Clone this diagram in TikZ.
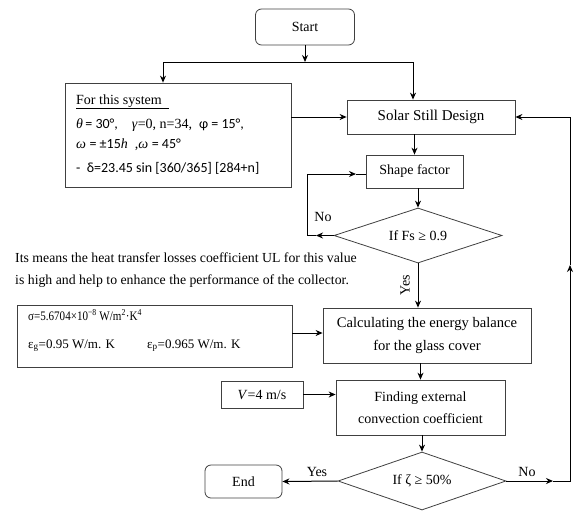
\documentclass[tikz,border=0pt]{standalone}
\usepackage{fontspec}
\setmainfont{Liberation Serif}
\newfontfamily\calfont{Carlito}
\usetikzlibrary{arrows.meta,shapes.geometric}
\begin{document}
\begin{tikzpicture}[x=1pt,y=-1pt,
  box/.style={draw=black!75, line width=0.8pt, inner sep=0pt, font=\fontsize{14}{23}\selectfont, align=center},
  rbox/.style={box, rounded corners=6pt},
  dec/.style={draw=black!75, line width=0.8pt, diamond, aspect=3, inner sep=0pt, font=\fontsize{14}{17}\selectfont},
  arr/.style={line width=1pt, -{Stealth[length=7pt,width=6pt]}},
  ln/.style={line width=1pt},
  lab/.style={font=\fontsize{14}{17}\selectfont, inner sep=0pt},
  txt/.style={font=\fontsize{14}{17}\selectfont, inner sep=0pt, anchor=base west},
  par/.style={font=\fontsize{13.8}{16}\selectfont, inner sep=0pt, anchor=base west}
]
\useasboundingbox (0,0) rectangle (580,520);

% nodes
\node[rbox, minimum width=99pt, minimum height=36pt] (start) at (305,27) {Start};
\node[box, minimum width=226pt, minimum height=104pt] (sys) at (178,135) {};
\node[box, minimum width=168pt, minimum height=34pt, font=\fontsize{15}{18}\selectfont] (ssd) at (431,117) {Solar Still Design};
\node[box, minimum width=97pt, minimum height=33pt] (sf) at (414.5,171.5) {Shape factor};
\node[dec, minimum width=168pt, minimum height=55pt] (d1) at (418,235.5) {If Fs ≥ 0.9};
\node[box, minimum width=208pt, minimum height=55pt, font=\fontsize{14.6}{23}\selectfont] (eb) at (427,335.5) {Calculating the energy balance\\for the glass cover};
\node[box, minimum width=275pt, minimum height=62pt] (sig) at (154.5,336) {};
\node[box, minimum width=169pt, minimum height=55pt, font=\fontsize{14}{22}\selectfont] (fe) at (420.5,407.5) {Finding external\\convection coefficient};
\node[box, minimum width=82pt, minimum height=27pt] (v) at (262,394.5) {\textit{V}=4 m/s};
\node[dec, minimum width=168pt, minimum height=58pt] (d2) at (422,481) {If ζ ≥ 50\%};
\node[rbox, minimum width=77pt, minimum height=33pt] (end) at (243.5,481.5) {End};

% system box text
\node[txt] (s1) at (76,104) {\underline{For this system\ \ }};
\node[txt] (s2) at (76,128) {\textit{θ}\,{\calfont = 30°,}\hspace{14pt}\textit{γ}=0, n=34,\ \ {\calfont φ = 15°,}};
\node[txt] (s3) at (76,148) {\textit{ω}\ {\calfont =\ ±15}\textit{h}\ \ ,\textit{ω}\ {\calfont =\ 45°}};
\node[txt] (s4) at (76,172) {\calfont -\ \ δ=23.45 sin [360/365] [284+n]};

% sigma box text
\node[txt, font=\fontsize{13}{15}\selectfont] (g1) at (28,320) {\scalebox{0.85}[1]{σ=5.6704×10\textsuperscript{−8} W/m\textsuperscript{2}·K\textsuperscript{4}}};
\node[txt, font=\fontsize{13}{15}\selectfont] (g2) at (28,348) {ε\textsubscript{g}=0.95 W/m. K};
\node[txt, font=\fontsize{13}{15}\selectfont] (g3) at (147,348) {ε\textsubscript{p}=0.965 W/m. K};

% paragraph
\node[par] (p1) at (15,262) {Its means the heat transfer losses coefficient UL for this value};
\node[par] (p2) at (15,284) {is high and help to enhance the performance of the collector.};

% connectors
\coordinate (j) at (305,62);
\draw[arr] (start.south) -- (j);
\draw[arr] (j) -| ([xshift=-15pt]sys.north);
\draw[arr] (j) -| ([xshift=-18pt]ssd.north);
\draw[arr] (sys.east |- ssd.west) -- (ssd.west);
\draw[arr] (ssd.south -| sf.north) -- (sf.north);
\draw[arr] (sf.south -| d1.north) -- (d1.north);

% No loop of d1
\coordinate (nl) at (307,235.5);
\coordinate (nt) at (307,174);
\coordinate (na) at (316,235.5);
\coordinate (nb) at (356,174);
\draw[arr] (d1.west) -- (na);
\draw[ln] (na) -- (nl) -- (nt);
\draw[arr] (nt) -- (nb);
\draw[ln] (nb) -- (nb -| sf.west);
\node[lab] (no1) at (323,217) {No};

% Yes d1
\draw[arr] (d1.south) -- (d1.south |- eb.north);
\node[lab, rotate=90] (yes1) at (405,285) {Yes};

\draw[arr] (sig.east |- 0,333) -- (eb.west |- 0,333);
\draw[arr] (eb.south -| fe.north) -- (fe.north);
\draw[arr] (v.east) -- (v.east -| fe.west);
\draw[arr] (fe.south -| d2.north) -- (d2.north);

% d2 branches
\draw[arr] (d2.west) -- (end.east);
\node[lab] (yes2) at (317,472) {Yes};
\coordinate (ra) at (553,481);
\coordinate (rm) at (570,265);
\draw[arr] (d2.east) -- (ra);
\draw[arr] (ra) -| (rm);
\draw[arr] (rm) |- (ssd.east);
\node[lab] (no2) at (527,472) {No};
\end{tikzpicture}
\end{document}
